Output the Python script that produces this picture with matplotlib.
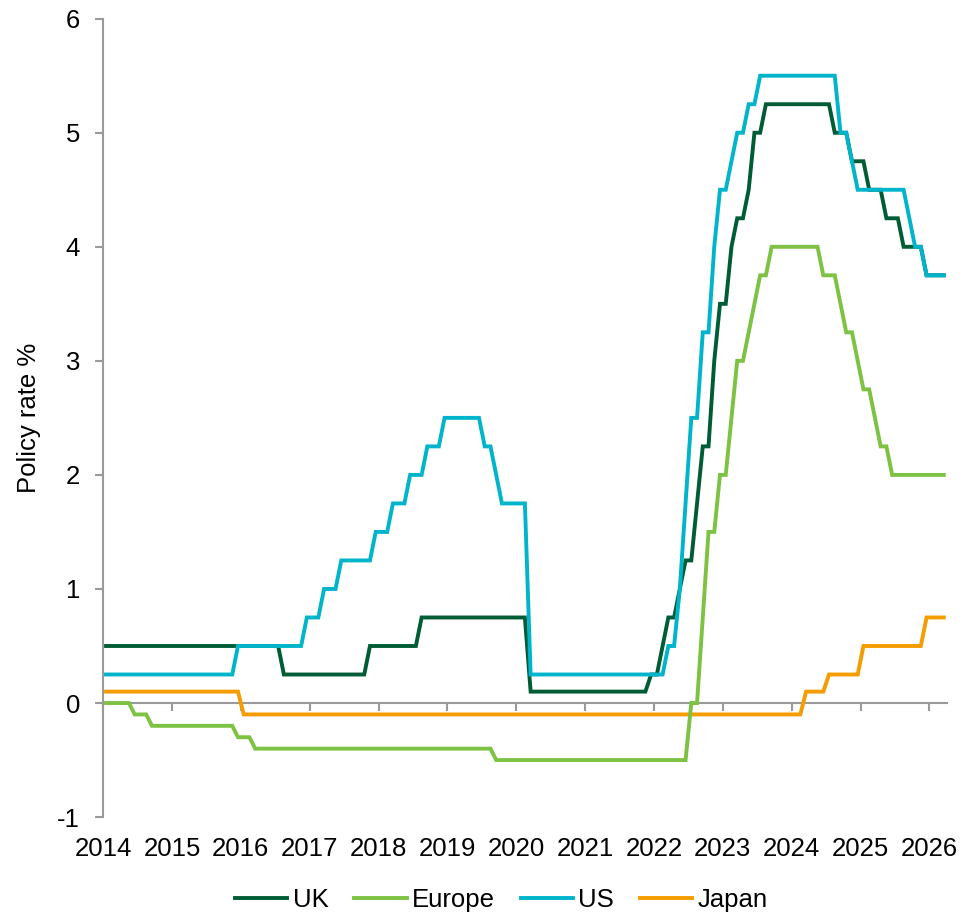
import numpy as np
import pandas as pd
import matplotlib
matplotlib.use('Agg')
import matplotlib.pyplot as plt

plt.rcParams['font.family'] = ['Liberation Sans', 'DejaVu Sans']
plt.rcParams['axes.unicode_minus'] = False

# policy rate changes: month (rate at month end) and new rate
uk_months = ['2014-01', '2016-08', '2017-11', '2018-08', '2020-03', '2021-12',
             '2022-02', '2022-03', '2022-05', '2022-06', '2022-08', '2022-09',
             '2022-11', '2022-12', '2023-02', '2023-03', '2023-05', '2023-06',
             '2023-08', '2024-08', '2024-11', '2025-02', '2025-05', '2025-08',
             '2025-12']
uk_rates = [0.5, 0.25, 0.5, 0.75, 0.1, 0.25,
            0.5, 0.75, 1.0, 1.25, 1.75, 2.25,
            3.0, 3.5, 4.0, 4.25, 4.5, 5.0,
            5.25, 5.0, 4.75, 4.5, 4.25, 4.0,
            3.75]

europe_months = ['2014-01', '2014-06', '2014-09', '2015-12', '2016-03', '2019-09',
                 '2022-07', '2022-09', '2022-10', '2022-12', '2023-02', '2023-03',
                 '2023-05', '2023-06', '2023-07', '2023-09', '2024-06', '2024-09',
                 '2024-10', '2024-12', '2025-01', '2025-03', '2025-04', '2025-06']
europe_rates = [0.0, -0.1, -0.2, -0.3, -0.4, -0.5,
                0.0, 0.75, 1.5, 2.0, 2.5, 3.0,
                3.25, 3.5, 3.75, 4.0, 3.75, 3.5,
                3.25, 3.0, 2.75, 2.5, 2.25, 2.0]

us_months = ['2014-01', '2015-12', '2016-12', '2017-03', '2017-06', '2017-12',
             '2018-03', '2018-06', '2018-09', '2018-12', '2019-07', '2019-09',
             '2019-10', '2020-03', '2022-03', '2022-05', '2022-06', '2022-07',
             '2022-09', '2022-11', '2022-12', '2023-02', '2023-03', '2023-05',
             '2023-07', '2024-09', '2024-11', '2024-12', '2025-09', '2025-10',
             '2025-12']
us_rates = [0.25, 0.5, 0.75, 1.0, 1.25, 1.5,
            1.75, 2.0, 2.25, 2.5, 2.25, 2.0,
            1.75, 0.25, 0.5, 1.0, 1.75, 2.5,
            3.25, 4.0, 4.5, 4.75, 5.0, 5.25,
            5.5, 5.0, 4.75, 4.5, 4.25, 4.0,
            3.75]

japan_months = ['2014-01', '2016-01', '2024-03', '2024-07', '2025-01', '2025-12']
japan_rates = [0.1, -0.1, 0.1, 0.25, 0.5, 0.75]

last_month = '2026-03'
years = list(range(2014, 2027))


def monthly(months, rates):
    idx = pd.period_range(months[0], last_month, freq='M')
    s = pd.Series(rates, index=pd.PeriodIndex(months, freq='M')).reindex(idx).ffill()
    x = idx.year + (idx.month - 0.5) / 12
    return np.asarray(x), s.values


series = [
    ('UK', uk_months, uk_rates, '#005C35'),
    ('Europe', europe_months, europe_rates, '#7DC243'),
    ('US', us_months, us_rates, '#00B5CB'),
    ('Japan', japan_months, japan_rates, '#F59C00'),
]

fig = plt.figure(figsize=(9.64, 9.16), dpi=100)
ax = fig.add_axes([0.107, 0.108, 0.875, 0.8716])

# draw order: Japan, Europe, UK, US on top
order = [3, 1, 0, 2]
handles = {}
for i in order:
    name, m, r, c = series[i]
    x, y = monthly(m, r)
    ln, = ax.plot(x, y, color=c, lw=2.8, label=name, solid_joinstyle='miter')
    handles[name] = ln

ax.set_xlim(2014, 2026.25)
ax.set_ylim(-1, 6)
ax.set_yticks(range(-1, 7))
ax.set_xticks(years)
ax.set_xticklabels([str(y) for y in years])

fs = 18.5
grey = '#9a9a9a'
for s in ['top', 'right', 'bottom']:
    ax.spines[s].set_visible(False)
ax.spines['left'].set_color(grey)
ax.spines['left'].set_linewidth(1.5)
ax.tick_params(axis='y', length=5.5, width=1.5, color=grey, pad=11, labelsize=fs)
ax.tick_params(axis='x', length=0, pad=14, labelsize=fs)

# x axis line through zero
sec = ax.secondary_xaxis(1 / 7)
sec.set_xticks(years)
sec.set_xticklabels([])
sec.spines['bottom'].set_color(grey)
sec.spines['bottom'].set_linewidth(1.5)
sec.tick_params(axis='x', length=5.5, width=1.5, color=grey, direction='out')

ax.set_ylabel('Policy rate %', fontsize=fs, labelpad=12)

names = ['UK', 'Europe', 'US', 'Japan']
fig.legend([handles[n] for n in names], names, loc='center',
           bbox_to_anchor=(0.52, 0.0175), ncol=4, frameon=False, fontsize=fs,
           handlelength=2.05, handletextpad=0.2, columnspacing=1.0,
           borderpad=0, borderaxespad=0)

plt.savefig('out.png', dpi=100)
